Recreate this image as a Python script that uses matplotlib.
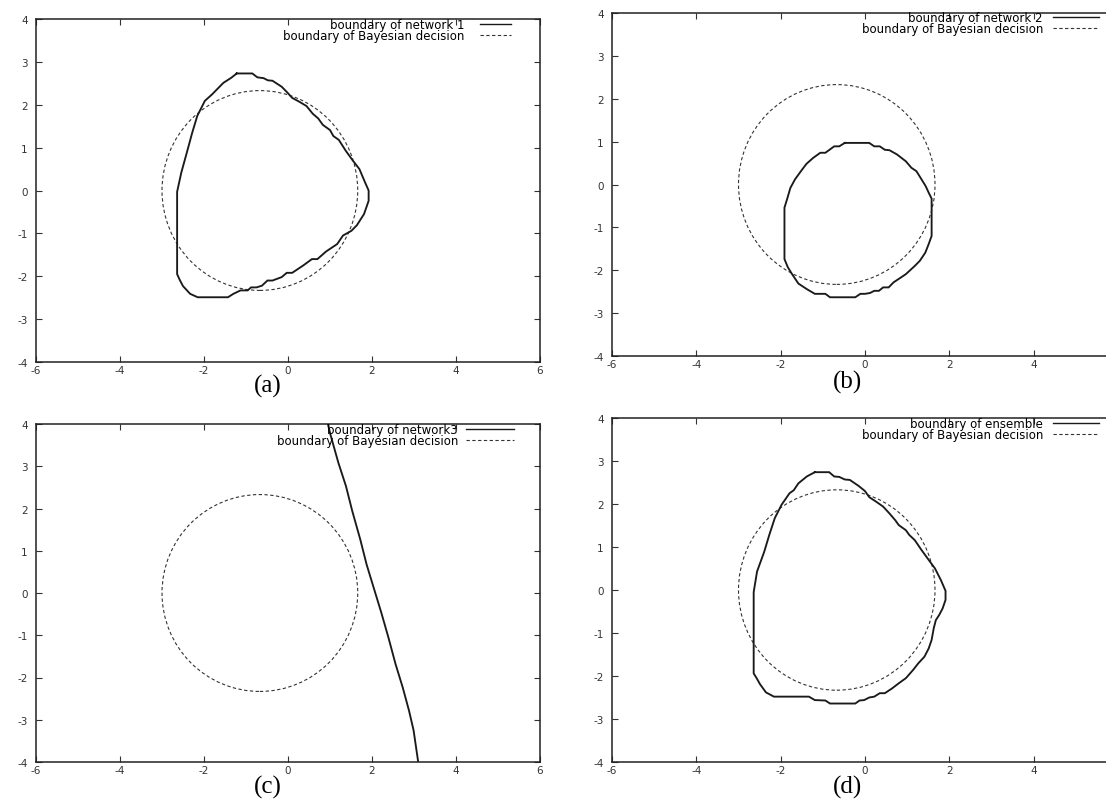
import matplotlib
matplotlib.use("Agg")
import matplotlib.pyplot as plt
from matplotlib.lines import Line2D
from matplotlib.patches import Circle

plt.rcParams["axes.unicode_minus"] = False

# Bayesian decision boundary (circle)
bayes_center = (-0.67, 0.0)
bayes_radius = 2.33

# Boundary of network 1
net1_x = [-1.22, -0.85, -0.73, -0.58, -0.48, -0.37, -0.15, -0.03, 0.10, 0.27, 0.44,
          0.59, 0.72, 0.83, 1.00, 1.08, 1.21, 1.38, 1.55, 1.70, 1.83, 1.92, 1.92,
          1.81, 1.64, 1.51, 1.31, 1.17, 0.91, 0.70, 0.57, 0.36, 0.10, -0.03, -0.15,
          -0.37, -0.49, -0.62, -0.75, -0.88, -0.96, -1.13, -1.30, -1.43, -2.15,
          -2.33, -2.50, -2.58, -2.64, -2.64, -2.54, -2.41, -2.28, -2.16, -1.98,
          -1.81, -1.69, -1.54, -1.35, -1.22]
net1_y = [2.73, 2.73, 2.64, 2.62, 2.57, 2.56, 2.42, 2.30, 2.16, 2.07, 1.97,
          1.79, 1.68, 1.53, 1.41, 1.27, 1.18, 0.92, 0.69, 0.50, 0.20, 0.00, -0.24,
          -0.55, -0.81, -0.94, -1.05, -1.25, -1.42, -1.60, -1.60, -1.75, -1.92, -1.92, -2.02,
          -2.10, -2.10, -2.22, -2.26, -2.26, -2.33, -2.33, -2.41, -2.49, -2.49,
          -2.41, -2.23, -2.08, -1.95, -0.03, 0.42, 0.88, 1.35, 1.74, 2.09,
          2.24, 2.36, 2.51, 2.63, 2.73]

# Boundary of network 2
net2_x = [-0.48, 0.10, 0.22, 0.35, 0.47, 0.58, 0.76, 0.97, 1.10, 1.22, 1.34, 1.44,
          1.51, 1.58, 1.58, 1.51, 1.43, 1.30, 1.18, 0.97, 0.85, 0.68, 0.56, 0.43,
          0.33, 0.22, 0.12, 0.00, -0.11, -0.23, -0.83, -0.94, -1.19, -1.38, -1.58,
          -1.73, -1.83, -1.91, -1.91, -1.85, -1.77, -1.66, -1.52, -1.39, -1.23,
          -1.06, -0.94, -0.73, -0.61, -0.48]
net2_y = [0.97, 0.97, 0.89, 0.89, 0.81, 0.80, 0.70, 0.54, 0.39, 0.31, 0.12, -0.04,
          -0.19, -0.33, -1.20, -1.39, -1.59, -1.78, -1.90, -2.09, -2.17, -2.28, -2.40, -2.40,
          -2.48, -2.48, -2.53, -2.55, -2.55, -2.63, -2.63, -2.55, -2.55, -2.44, -2.31,
          -2.09, -1.93, -1.74, -0.54, -0.35, -0.08, 0.12, 0.31, 0.48, 0.62,
          0.74, 0.74, 0.89, 0.89, 0.97]

# Boundary of network 3 (open curve crossing the plane)
net3_x = [0.95, 1.01, 1.20, 1.38, 1.53, 1.72, 1.87, 2.06, 2.22, 2.39, 2.56, 2.73,
          2.88, 2.99, 3.10]
net3_y = [4.00, 3.75, 3.08, 2.53, 1.94, 1.27, 0.68, 0.06, -0.46, -1.05, -1.68, -2.23,
          -2.78, -3.25, -4.00]

# Boundary of the ensemble
ens_x = [-1.19, -0.85, -0.73, -0.61, -0.48, -0.36, -0.15, 0.00, 0.10, 0.27, 0.43,
         0.58, 0.72, 0.80, 0.97, 1.05, 1.18, 1.34, 1.51, 1.66, 1.80, 1.91, 1.91,
         1.84, 1.76, 1.68, 1.63, 1.58, 1.51, 1.41, 1.26, 1.14, 0.97, 0.80, 0.64,
         0.47, 0.35, 0.22, 0.10, -0.02, -0.13, -0.23, -0.83, -0.94, -1.19, -1.33,
         -2.16, -2.35, -2.49, -2.57, -2.64, -2.64, -2.56, -2.39, -2.27, -2.14,
         -1.98, -1.79, -1.69, -1.58, -1.38, -1.19]
ens_y = [2.74, 2.74, 2.64, 2.63, 2.57, 2.56, 2.42, 2.30, 2.16, 2.05, 1.94,
         1.78, 1.62, 1.51, 1.39, 1.28, 1.16, 0.93, 0.70, 0.50, 0.23, -0.02, -0.23,
         -0.43, -0.58, -0.70, -0.89, -1.16, -1.36, -1.55, -1.71, -1.86, -2.05, -2.17, -2.29,
         -2.40, -2.40, -2.48, -2.50, -2.56, -2.57, -2.64, -2.64, -2.57, -2.56, -2.48,
         -2.48, -2.38, -2.19, -2.05, -1.94, -0.05, 0.43, 0.89, 1.28, 1.67,
         1.98, 2.25, 2.32, 2.48, 2.64, 2.74]

panel_curves = [(net1_x, net1_y), (net2_x, net2_y), (net3_x, net3_y), (ens_x, ens_y)]
panel_labels = ["boundary of network 1", "boundary of network 2",
                "boundary of network3", "boundary of ensemble"]
bayes_label = "boundary of Bayesian decision"
captions = ["(a)", "(b)", "(c)", "(d)"]
x_ticks = [-6, -4, -2, 0, 2, 4, 6]
x_ticklabels_full = ["-6", "-4", "-2", "0", "2", "4", "6"]
x_ticklabels_trim = ["-6", "-4", "-2", "0", "2", "4", ""]
y_ticks = [-4, -3, -2, -1, 0, 1, 2, 3, 4]

W, H = 1106, 803
fig = plt.figure(figsize=(W / 100, H / 100), dpi=100)
fig.patch.set_facecolor("white")

# axes boxes in pixels: left, top, right, bottom
boxes = [(36, 20, 540, 363), (612, 14, 1118, 357),
         (36, 425, 540, 763), (612, 419, 1118, 763)]
# legend anchor (right end of sample line, top of first row), sample length, gap (px)
legend_spec = [(511, 19, 31, 16), (1099, 12, 46, 10),
               (514, 424, 48, 8), (1099, 418, 46, 10)]
caption_pos = [(268, 386), (848, 382), (268, 787), (848, 787)]

ink = "#1a1a1a"
fs_leg = 8.5
px_per_em = fs_leg * 100 / 72

for i, (l, t, r, b) in enumerate(boxes):
    ax = fig.add_axes([l / W, 1 - b / H, (r - l) / W, (b - t) / H])
    ax.set_xlim(-6, 6)
    ax.set_ylim(-4, 4)
    ax.set_xticks(x_ticks)
    ax.set_xticklabels(x_ticklabels_full if r <= W else x_ticklabels_trim)
    ax.set_yticks(y_ticks)
    ax.tick_params(direction="in", length=4, width=0.8, top=True, right=True,
                   labelsize=7.5, colors="#333333")
    ax.tick_params(axis="x", pad=2)
    ax.tick_params(axis="y", pad=6)
    for s in ax.spines.values():
        s.set_linewidth(1.1)
        s.set_color("#222222")

    cx, cy = panel_curves[i]
    ax.plot(cx, cy, color=ink, lw=1.35, solid_joinstyle="miter")
    ax.add_patch(Circle(bayes_center, bayes_radius, fill=False, edgecolor="#333333",
                        lw=0.8, ls=(0, (3, 2.2))))

    hx, hy, hlen, hpad = legend_spec[i]
    handles = [Line2D([], [], color=ink, lw=1.0),
               Line2D([], [], color="#333333", lw=0.8, ls=(0, (3, 2.2)))]
    ax.legend(handles, [panel_labels[i], bayes_label],
              loc="upper right", bbox_to_anchor=((hx - l) / (r - l), 1 - (hy - t) / (b - t)),
              markerfirst=False, frameon=False, fontsize=fs_leg,
              handlelength=hlen / px_per_em, handletextpad=hpad / px_per_em,
              labelspacing=-0.2, borderpad=0, borderaxespad=0)

    fig.text(caption_pos[i][0] / W, 1 - caption_pos[i][1] / H, captions[i],
             family="Liberation Serif", fontsize=18, ha="center", va="center")

fig.savefig("out.png", dpi=100, facecolor="white")
